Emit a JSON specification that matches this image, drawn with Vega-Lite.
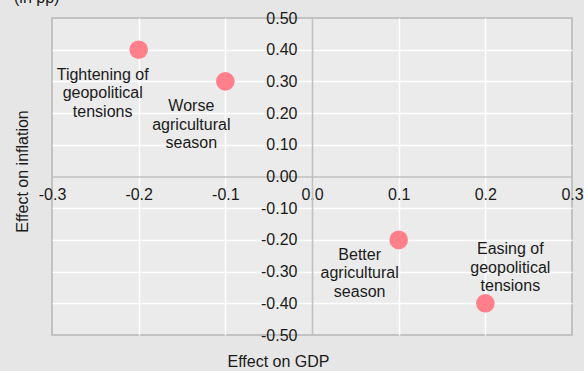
{
  "$schema": "https://vega.github.io/schema/vega-lite/v6.json",
  "width": 520,
  "height": 317,
  "autosize": {"type": "none"},
  "padding": {"left": 52, "top": 18, "right": 12, "bottom": 36},
  "background": "#e6e6e6",
  "config": {
    "view": {"fill": "#ebebeb", "stroke": "#c2c2c2", "strokeWidth": 2},
    "font": "Liberation Sans"
  },
  "title": {"text": "(in pp)", "anchor": "start", "frame": "group", "fontSize": 16, "fontWeight": "normal", "color": "#1a1a1a", "font": "Liberation Sans", "dx": -38, "dy": 6, "offset": 10},
  "data": {"values": [
    {"gdp": -0.2, "inflation": 0.4, "scenario": "Tightening of\ngeopolitical\ntensions"},
    {"gdp": -0.1, "inflation": 0.3, "scenario": "Worse\nagricultural\nseason"},
    {"gdp": 0.1, "inflation": -0.2, "scenario": "Better\nagricultural\nseason"},
    {"gdp": 0.2, "inflation": -0.4, "scenario": "Easing of\ngeopolitical\ntensions"}
  ]},
  "encoding": {
    "x": {"field": "gdp", "type": "quantitative",
      "scale": {"domain": [-0.3, 0.3], "nice": false, "zero": false},
      "axis": {"title": "Effect on GDP", "values": [-0.3, -0.2, -0.1, 0, 0.1, 0.2, 0.3],
        "labelExpr": "replace(format(datum.value, '.1f'), '\u2212', '-')",
        "offset": -158.5, "domainColor": "#c0c0c0", "domainWidth": 1.5, "ticks": false,
        "gridColor": {"condition": {"test": "abs(datum.value) > 0.29 || datum.value == 0", "value": "transparent"}, "value": "#ffffff"},
        "gridWidth": 1.5, "gridOpacity": 1,
        "labelFontSize": 16, "labelColor": "#1a1a1a", "labelPadding": 10, "labelFlush": false, "labelOverlap": false, "labelFont": "Liberation Sans",
        "titleFontSize": 16, "titleFontWeight": "normal", "titleColor": "#1a1a1a", "titleFont": "Liberation Sans",
        "titleX": 226, "titleY": 184.5, "titleBaseline": "middle", "titleAlign": "center"}},
    "y": {"field": "inflation", "type": "quantitative",
      "scale": {"domain": [-0.5, 0.5], "nice": false, "zero": false},
      "axis": {"title": "Effect on inflation", "values": [-0.5, -0.4, -0.3, -0.2, -0.1, 0, 0.1, 0.2, 0.3, 0.4, 0.5],
        "labelExpr": "replace(format(datum.value, '.2f'), '\u2212', '-')",
        "offset": -260, "domainColor": "#c0c0c0", "domainWidth": 1.5, "ticks": false,
        "gridColor": {"condition": {"test": "abs(datum.value) > 0.49 || datum.value == 0", "value": "transparent"}, "value": "#ffffff"},
        "gridWidth": 1.5, "gridOpacity": 1,
        "labelFontSize": 16, "labelColor": "#1a1a1a", "labelPadding": 15, "labelFlush": false, "labelOverlap": false, "labelFont": "Liberation Sans",
        "titleFontSize": 16, "titleFontWeight": "normal", "titleColor": "#1a1a1a", "titleFont": "Liberation Sans",
        "titleX": -290, "titleY": 153, "titleAngle": -90, "titleBaseline": "middle", "titleAlign": "center"}}
  },
  "layer": [
    {"mark": {"type": "circle", "size": 346, "color": "#ff808b", "opacity": 1}},
    {"transform": [{"filter": "datum.gdp == -0.2"}],
     "mark": {"type": "text", "lineBreak": "\n", "fontSize": 16, "lineHeight": 18.5, "align": "center", "baseline": "middle", "color": "#1a1a1a", "dx": -36, "dy": 25},
     "encoding": {"text": {"field": "scenario"}}},
    {"transform": [{"filter": "datum.gdp == -0.1"}],
     "mark": {"type": "text", "lineBreak": "\n", "fontSize": 16, "lineHeight": 18.5, "align": "center", "baseline": "middle", "color": "#1a1a1a", "dx": -34, "dy": 25},
     "encoding": {"text": {"field": "scenario"}}},
    {"transform": [{"filter": "datum.gdp == 0.1"}],
     "mark": {"type": "text", "lineBreak": "\n", "fontSize": 16, "lineHeight": 18.5, "align": "center", "baseline": "middle", "color": "#1a1a1a", "dx": -39, "dy": 15},
     "encoding": {"text": {"field": "scenario"}}},
    {"transform": [{"filter": "datum.gdp == 0.2"}],
     "mark": {"type": "text", "lineBreak": "\n", "fontSize": 16, "lineHeight": 18.5, "align": "center", "baseline": "middle", "color": "#1a1a1a", "dx": 25, "dy": -54},
     "encoding": {"text": {"field": "scenario"}}}
  ]
}
